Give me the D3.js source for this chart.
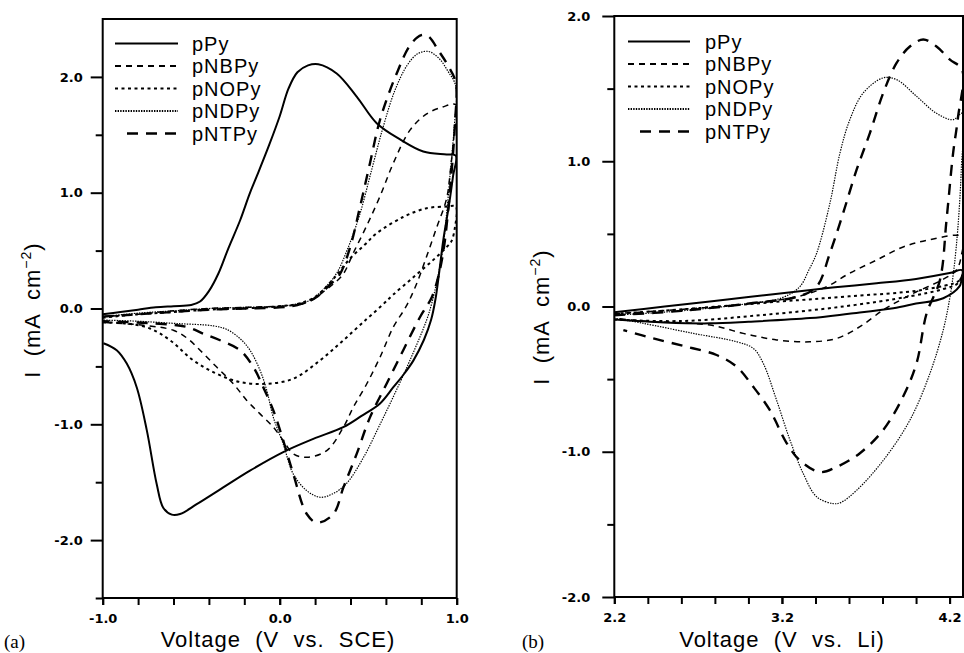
<!DOCTYPE html>
<html><head><meta charset="utf-8">
<script src="https://cdn.jsdelivr.net/npm/d3@7"></script>
<style>
html,body{margin:0;padding:0;background:#fff;}
svg{display:block;}
</style>
</head><body>
<svg id="chart" width="964" height="653"></svg>
<script>
// ---------------- DATA ----------------
const seriesNames = ["pPy", "pNBPy", "pNOPy", "pNDPy", "pNTPy"];

// Panel (a): Voltage (V vs. SCE) vs I (mA cm^-2)
const a_pPy = [[-1.0,-0.05],[-0.9,-0.03],[-0.8,-0.01],[-0.7,0.01],[-0.6,0.02],[-0.5,0.03],[-0.45,0.06],[-0.40,0.15],[-0.347,0.30],[-0.29,0.52],[-0.224,0.76],[-0.17,0.99],[-0.13,1.14],[-0.06,1.41],[0.0,1.66],[0.05,1.9],[0.1,2.04],[0.16,2.1],[0.218,2.11],[0.322,2.03],[0.435,1.83],[0.548,1.60],[0.68,1.46],[0.811,1.356],[0.943,1.33],[0.995,1.32],
  [0.98,1.15],[0.955,0.88],[0.925,0.6],[0.9,0.3],[0.88,0.08],[0.855,-0.1],[0.815,-0.27],[0.755,-0.45],[0.7,-0.57],[0.642,-0.68],[0.567,-0.82],[0.46,-0.93],[0.359,-1.025],[0.19,-1.126],[0.02,-1.24],[-0.168,-1.40],[-0.319,-1.545],[-0.469,-1.69],[-0.563,-1.775],[-0.61,-1.78],[-0.658,-1.72],[-0.695,-1.515],[-0.751,-1.05],[-0.808,-0.68],[-0.864,-0.476],[-0.921,-0.36],[-0.996,-0.30]];
const a_pNBPy = [[-1.0,-0.07],[-0.8,-0.05],[-0.6,-0.02],[-0.4,0.0],[-0.2,0.01],[0.0,0.02],[0.1,0.03],[0.18,0.07],[0.26,0.16],[0.31,0.22],[0.36,0.30],[0.416,0.48],[0.49,0.71],[0.567,0.97],[0.642,1.255],[0.736,1.54],[0.83,1.68],[0.92,1.74],[0.995,1.76],
  [0.985,1.5],[0.965,1.2],[0.943,0.95],[0.887,0.7],[0.83,0.45],[0.77,0.2],[0.715,0.02],[0.642,-0.16],[0.567,-0.42],[0.492,-0.65],[0.416,-0.852],[0.36,-1.025],[0.266,-1.227],[0.155,-1.285],[0.077,-1.255],[0.02,-1.14],[-0.036,-1.025],[-0.111,-0.91],[-0.186,-0.794],[-0.262,-0.65],[-0.356,-0.506],[-0.45,-0.36],[-0.52,-0.26],[-0.601,-0.188],[-0.77,-0.145],[-1.0,-0.12]];
const a_pNOPy = [[-1.0,-0.08],[-0.8,-0.05],[-0.6,-0.03],[-0.4,-0.01],[-0.2,0.0],[0.0,0.02],[0.1,0.04],[0.2,0.1],[0.3,0.25],[0.397,0.43],[0.48,0.55],[0.548,0.65],[0.698,0.79],[0.83,0.866],[0.943,0.88],[0.995,0.88],
  [0.99,0.7],[0.97,0.58],[0.943,0.53],[0.868,0.42],[0.755,0.27],[0.642,0.12],[0.58,0.03],[0.492,-0.09],[0.36,-0.274],[0.228,-0.448],[0.077,-0.606],[-0.073,-0.65],[-0.224,-0.635],[-0.356,-0.563],[-0.488,-0.448],[-0.62,-0.274],[-0.733,-0.173],[-0.864,-0.13],[-1.0,-0.12]];
const a_pNDPy = [[-1.0,-0.07],[-0.8,-0.04],[-0.6,-0.02],[-0.4,0.0],[-0.2,0.01],[0.0,0.02],[0.1,0.04],[0.17,0.07],[0.25,0.17],[0.32,0.3],[0.38,0.5],[0.45,0.8],[0.52,1.2],[0.585,1.57],[0.65,1.88],[0.72,2.1],[0.78,2.2],[0.84,2.22],[0.9,2.16],[0.95,2.05],[0.995,1.92],
  [0.985,1.55],[0.965,1.2],[0.945,0.85],[0.92,0.5],[0.89,0.25],[0.86,0.05],[0.83,-0.1],[0.755,-0.38],[0.661,-0.7],[0.567,-1.0],[0.472,-1.29],[0.378,-1.51],[0.3,-1.6],[0.228,-1.63],[0.153,-1.573],[0.077,-1.43],[0.02,-1.17],[-0.036,-0.94],[-0.073,-0.707],[-0.111,-0.534],[-0.168,-0.36],[-0.224,-0.26],[-0.3,-0.18],[-0.375,-0.15],[-0.582,-0.13],[-0.8,-0.11],[-1.0,-0.1]];
const a_pNTPy = [[-1.0,-0.07],[-0.8,-0.05],[-0.6,-0.03],[-0.4,-0.01],[-0.2,0.0],[0.0,0.01],[0.1,0.03],[0.2,0.09],[0.28,0.2],[0.341,0.3],[0.398,0.53],[0.454,0.88],[0.51,1.255],[0.567,1.63],[0.661,2.03],[0.74,2.28],[0.8,2.36],[0.84,2.35],[0.9,2.22],[0.95,2.1],[0.995,1.95],
  [0.99,1.6],[0.975,1.25],[0.955,0.9],[0.93,0.55],[0.9,0.3],[0.86,0.1],[0.793,-0.073],[0.698,-0.36],[0.604,-0.65],[0.51,-0.94],[0.435,-1.255],[0.36,-1.545],[0.303,-1.775],[0.21,-1.85],[0.153,-1.775],[0.077,-1.43],[0.02,-1.14],[-0.036,-0.88],[-0.093,-0.679],[-0.149,-0.506],[-0.224,-0.36],[-0.337,-0.274],[-0.432,-0.217],[-0.525,-0.159],[-0.7,-0.13],[-1.0,-0.11]];

// Panel (b): Voltage (V vs. Li) vs I (mA cm^-2)
const b_pPy = [[2.2,-0.04],[2.5,0.0],[2.77,0.035],[3.0,0.065],[3.267,0.10],[3.5,0.13],[3.765,0.16],[4.0,0.19],[4.2,0.23],[4.275,0.25],
  [4.27,0.18],[4.26,0.14],[4.162,0.057],[4.0,0.02],[3.864,-0.012],[3.6,-0.05],[3.367,-0.08],[3.0,-0.105],[2.77,-0.116],[2.5,-0.11],[2.2,-0.09]];
const b_pNBPy = [[2.2,-0.05],[2.6,-0.02],[3.0,0.02],[3.3,0.07],[3.467,0.137],[3.605,0.23],[3.765,0.32],[3.923,0.41],[4.082,0.46],[4.275,0.48],
  [4.27,0.35],[4.24,0.25],[4.15,0.18],[4.0,0.1],[3.9,0.04],[3.804,-0.024],[3.665,-0.139],[3.526,-0.22],[3.367,-0.243],[3.168,-0.23],[2.969,-0.185],[2.771,-0.128],[2.37,-0.1],[2.2,-0.08]];
const b_pNOPy = [[2.2,-0.05],[2.6,-0.02],[3.2,0.035],[3.6,0.07],[4.04,0.115],[4.26,0.18],[4.275,0.22],
  [4.25,0.16],[4.162,0.12],[3.963,0.07],[3.566,0.0],[3.07,-0.06],[2.6,-0.1],[2.2,-0.09]];
const b_pNDPy = [[2.2,-0.06],[2.6,-0.03],[3.0,0.02],[3.2,0.06],[3.307,0.137],[3.36,0.25],[3.407,0.367],[3.486,0.71],[3.546,1.056],[3.605,1.286],[3.685,1.47],[3.804,1.574],[3.884,1.562],[4.003,1.447],[4.122,1.33],[4.221,1.286],[4.275,1.33],
  [4.27,0.95],[4.25,0.55],[4.225,0.25],[4.2,0.05],[4.162,-0.162],[4.083,-0.46],[3.963,-0.783],[3.804,-1.06],[3.645,-1.266],[3.55,-1.35],[3.506,-1.357],[3.407,-1.31],[3.327,-1.15],[3.248,-0.92],[3.168,-0.645],[3.088,-0.39],[3.029,-0.288],[2.93,-0.243],[2.671,-0.185],[2.373,-0.116],[2.2,-0.08]];
const b_pNTPy = [[2.2,-0.06],[2.6,-0.03],[3.0,0.02],[3.3,0.07],[3.407,0.137],[3.486,0.367],[3.565,0.643],[3.645,0.94],[3.725,1.195],[3.804,1.47],[3.884,1.677],[3.963,1.79],[4.043,1.838],[4.122,1.79],[4.202,1.70],[4.275,1.63],
  [4.25,1.3],[4.221,1.056],[4.182,0.6],[4.142,0.18],[4.063,-0.047],[4.003,-0.39],[3.923,-0.62],[3.804,-0.85],[3.665,-1.01],[3.526,-1.105],[3.427,-1.14],[3.307,-1.06],[3.228,-0.94],[3.128,-0.714],[3.029,-0.553],[2.93,-0.415],[2.81,-0.334],[2.632,-0.277],[2.433,-0.22],[2.254,-0.162]];

// Tick values / labels
const a_xMajor = [-1.0, 0.0, 1.0];
const a_xMinor = [-1.0,-0.8,-0.6,-0.4,-0.2,0.0,0.2,0.4,0.6,0.8,1.0];
const a_yMajor = [-2.0,-1.0,0.0,1.0,2.0];
const a_yMinor = [-2.5,-1.5,-0.5,0.5,1.5];
const b_xMajor = [2.2, 3.2, 4.2];
const b_xMinor = [2.2,2.4,2.6,2.8,3.0,3.2,3.4,3.6,3.8,4.0,4.2];
const b_yMajor = [-2.0,-1.0,0.0,1.0,2.0];
const b_yMinor = [-1.5,-0.5,0.5,1.5];

// ---------------- STYLES ----------------
const styles = {
  pPy:   {w:2.0, dash:null},
  pNBPy: {w:1.5, dash:"6,5"},
  pNOPy: {w:2.0, dash:"3,3.5"},
  pNDPy: {w:1.2, dash:"1.4,1.2"},
  pNTPy: {w:2.4, dash:"11,8"}
};

const svg = d3.select("#chart");
const defs = svg.append("defs");
const fontSans = "'Liberation Sans', Arial, Helvetica, sans-serif";
const fontTick = "'DejaVu Sans', 'Liberation Sans', sans-serif";

function panel(cfg){
  const x = d3.scaleLinear().domain(cfg.xDomain).range(cfg.xRange);
  const y = d3.scaleLinear().domain(cfg.yDomain).range(cfg.yRange);
  const g = svg.append("g");
  const clipId = "clip" + cfg.id;
  defs.append("clipPath").attr("id", clipId)
    .append("rect").attr("x", cfg.xRange[0]).attr("y", cfg.yRange[1])
    .attr("width", cfg.xRange[1]-cfg.xRange[0]).attr("height", cfg.yRange[0]-cfg.yRange[1]);

  // curves
  const line = d3.line().x(d=>x(d[0])).y(d=>y(d[1])).curve(d3.curveCatmullRom.alpha(0.5));
  const cg = g.append("g").attr("clip-path", `url(#${clipId})`);
  cfg.series.forEach((s,i)=>{
    const st = styles[seriesNames[i]];
    cg.append("path").datum(s).attr("d", line)
      .attr("fill","none").attr("stroke","#000")
      .attr("stroke-width", st.w).attr("stroke-dasharray", st.dash)
      .attr("stroke-linejoin","round");
  });

  // frame
  g.append("rect").attr("x", cfg.xRange[0]).attr("y", cfg.yRange[1])
    .attr("width", cfg.xRange[1]-cfg.xRange[0]).attr("height", cfg.yRange[0]-cfg.yRange[1])
    .attr("fill","none").attr("stroke","#000").attr("stroke-width",2);

  // axes (d3 axes: ticks + labels)
  const axG = svg.append("g");
  const xa = axG.append("g").attr("transform",`translate(0,${cfg.yRange[0]})`)
    .call(d3.axisBottom(x).tickValues(cfg.xMinor).tickSize(7).tickFormat(() => ""));
  const xl = axG.append("g").attr("transform",`translate(0,${cfg.yRange[0]})`)
    .call(d3.axisBottom(x).tickValues(cfg.xMajor).tickSize(7).tickPadding(9).tickFormat(d3.format(".1f")));
  const ya = axG.append("g").attr("transform",`translate(${cfg.xRange[0]},0)`)
    .call(d3.axisLeft(y).tickValues(cfg.yMinor).tickSize(7).tickFormat(() => ""));
  const yl = axG.append("g").attr("transform",`translate(${cfg.xRange[0]},0)`)
    .call(d3.axisLeft(y).tickValues(cfg.yMajor).tickSize(12).tickPadding(cfg.yPad).tickFormat(d3.format(".1f")));
  [xa,xl,ya,yl].forEach(a=>{
    a.attr("font-family", fontTick).attr("font-size", 13).attr("font-weight","bold");
    a.select(".domain").remove();
    a.selectAll(".tick line").attr("stroke","#000").attr("stroke-width",2);
    a.selectAll(".tick text").attr("fill","#000")
      .text(function(){return this.textContent.replace("\u2212","-");});
  });

  // axis titles
  g.append("text").attr("x", cfg.xTitleX).attr("y", 647)
    .attr("text-anchor","middle").attr("font-family",fontSans).attr("font-size",22)
    .attr("letter-spacing",1).style("white-space","pre")
    .text(cfg.xTitle);
  const yt = g.append("text").attr("transform",`translate(${cfg.yTitleX},${cfg.yTitleY}) rotate(-90)`)
    .attr("text-anchor","middle").attr("font-family",fontSans).attr("font-size",22)
    .attr("letter-spacing",1).style("white-space","pre");
  yt.append("tspan").text("I  (mA  cm");
  yt.append("tspan").attr("dy",-9).attr("font-size",14).text("\u22122");
  yt.append("tspan").attr("dy",9).text(")");

  // panel tag
  g.append("text").attr("x", cfg.tagX).attr("y", 648)
    .attr("font-family","'Liberation Serif', 'Times New Roman', serif").attr("font-size",19)
    .text(cfg.tag);

  // legend
  const lg = g.append("g");
  seriesNames.forEach((n,i)=>{
    const st = styles[n];
    const yy = cfg.legY + i*22.5;
    lg.append("line").attr("x1", n==="pNTPy" ? cfg.legX0+12 : cfg.legX0).attr("x2", cfg.legX1)
      .attr("y1", yy).attr("y2", yy).attr("stroke","#000")
      .attr("stroke-width", Math.max(st.w,1.8)).attr("stroke-dasharray", st.dash);
    lg.append("text").attr("x", cfg.legTX).attr("y", yy+7)
      .attr("font-family",fontSans).attr("font-size",20).attr("letter-spacing",1)
      .text(n);
  });
}

panel({
  id:"a", series:[a_pPy,a_pNBPy,a_pNOPy,a_pNDPy,a_pNTPy],
  xDomain:[-1,1], xRange:[102.7,456.7], yDomain:[-2.5,2.5], yRange:[598,19],
  xMajor:a_xMajor, xMinor:a_xMinor, yMajor:a_yMajor, yMinor:a_yMinor, yPad:8,
  xTitle:"Voltage  (V  vs.  SCE)", xTitleX:278, yTitleX:40, yTitleY:310,
  tag:"(a)", tagX:4, legY:43.5, legX0:115, legX1:178, legTX:192
});
panel({
  id:"b", series:[b_pPy,b_pNBPy,b_pNOPy,b_pNDPy,b_pNTPy],
  xDomain:[2.2,4.28], xRange:[614.3,963], yDomain:[-2,2], yRange:[597,16],
  xMajor:b_xMajor, xMinor:b_xMinor, yMajor:b_yMajor, yMinor:b_yMinor, yPad:12,
  xTitle:"Voltage  (V  vs.  Li)", xTitleX:782, yTitleX:549, yTitleY:317,
  tag:"(b)", tagX:522, legY:41.5, legX0:628, legX1:690, legTX:705
});
</script>
</body></html>
